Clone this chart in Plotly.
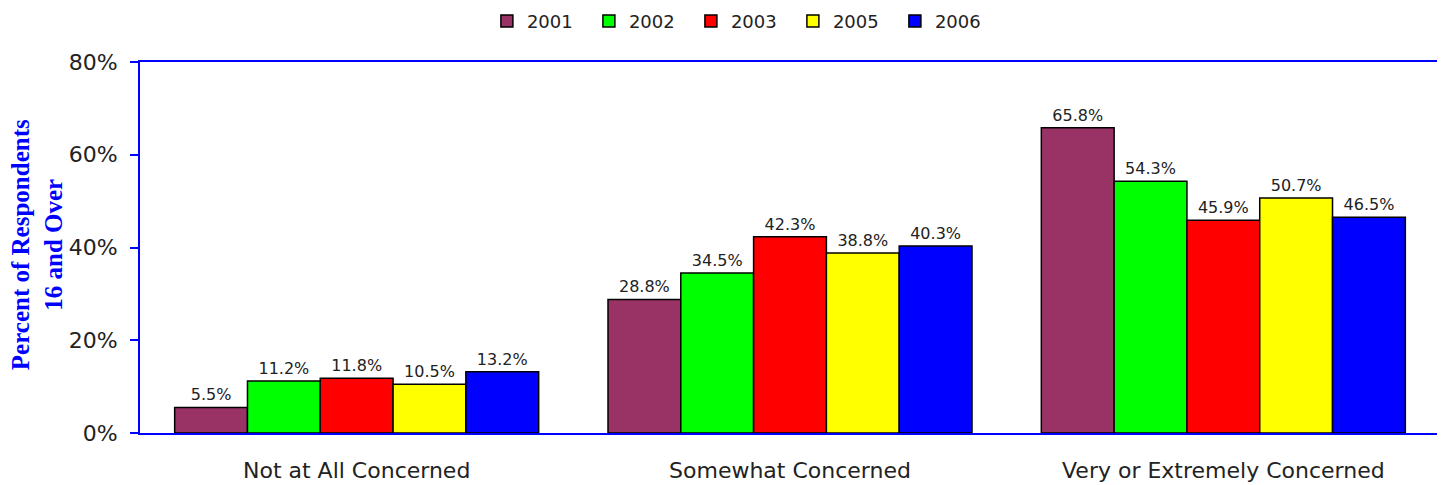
import plotly.graph_objects as go

categories = ["Not at All Concerned", "Somewhat Concerned", "Very or Extremely Concerned"]
years = ["2001", "2002", "2003", "2005", "2006"]
v2001 = [5.5, 28.8, 65.8]
v2002 = [11.2, 34.5, 54.3]
v2003 = [11.8, 42.3, 45.9]
v2005 = [10.5, 38.8, 50.7]
v2006 = [13.2, 40.3, 46.5]
series = [v2001, v2002, v2003, v2005, v2006]
colors = ["#993366", "#00FF00", "#FF0000", "#FFFF00", "#0000FF"]

font = "DejaVu Sans"

fig = go.Figure()
for yr, vals, col in zip(years, series, colors):
    fig.add_trace(go.Bar(
        x=categories, y=vals, name=yr,
        marker=dict(color=col, line=dict(color="black", width=1.5)),
        text=[f"{v:.1f}%" for v in vals], textposition="outside",
        textfont=dict(family=font, size=16, color="#222"),
        cliponaxis=False,
    ))

# page body has ~8px margin, so the figure is sized a bit smaller
fig.update_layout(
    width=1437, height=477,
    margin=dict(l=132, r=5, t=54, b=52, autoexpand=False),
    barmode="group", bargap=0.16, bargroupgap=0,
    plot_bgcolor="white", paper_bgcolor="white",
    font=dict(family=font, size=18, color="#222"),
    legend=dict(orientation="h", x=0.463, xanchor="center", y=1.11, yanchor="middle",
                font=dict(family=font, size=18), itemwidth=30, traceorder="normal",
                entrywidth=57),
    xaxis=dict(showline=True, linecolor="#0000FF", linewidth=2, mirror=True,
               ticks="", tickfont=dict(size=22), ticklabelstandoff=17,
               automargin=False),
    yaxis=dict(range=[0, 80], dtick=20, ticksuffix="%", showgrid=False,
               showline=True, linecolor="#0000FF", linewidth=2, mirror=True,
               ticks="outside", ticklen=8, tickcolor="#0000FF", tickwidth=2,
               tickfont=dict(size=22), ticklabelstandoff=8,
               zeroline=False, automargin=False),
    showlegend=True,
)

fig.add_annotation(
    text="<b>Percent of Respondents<br>16 and Over</b>",
    xref="paper", yref="paper", x=-0.079, y=0.507, xanchor="center", yanchor="middle",
    textangle=-90, showarrow=False,
    font=dict(family="Liberation Serif", size=25, color="#0000FF"),
)

fig.write_html("out.html")
